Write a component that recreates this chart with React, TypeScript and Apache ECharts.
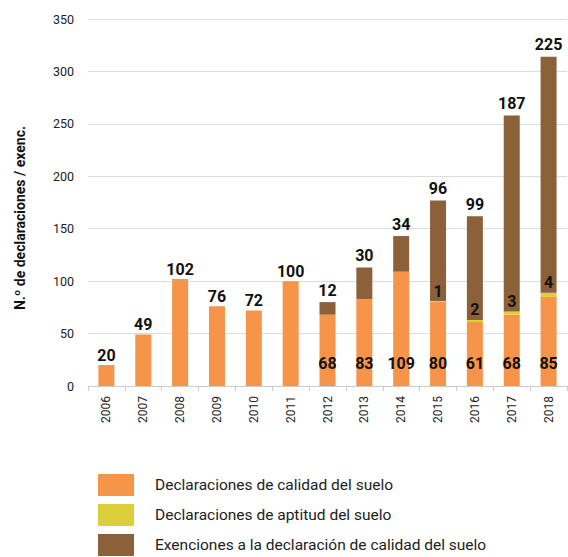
import React, { useEffect, useRef } from "react";
import * as echarts from "echarts";

const years = ["2006", "2007", "2008", "2009", "2010", "2011", "2012", "2013", "2014", "2015", "2016", "2017", "2018"];
const calidad = [20, 49, 102, 76, 72, 100, 68, 83, 109, 80, 61, 68, 85];
const aptitud = [0, 0, 0, 0, 0, 0, 0, 0, 0, 1, 2, 3, 4];
const exenciones = [0, 0, 0, 0, 0, 0, 12, 30, 34, 96, 99, 187, 225];
const yTicks = { min: 0, max: 350, interval: 50 };

const ORANGE = "#F6944A";
const YELLOW = "#DCCF3C";
const BROWN = "#8C6038";
const FONT = "Roboto";

const labelBase = {
  show: true,
  color: "#111",
  fontFamily: FONT,
  fontWeight: "bold" as const,
  fontSize: 16,
};

export default function App() {
  const ref = useRef<HTMLDivElement>(null);

  useEffect(() => {
    if (!ref.current) return;
    const chart = echarts.init(ref.current, null, { renderer: "svg" });

    // Orange values sit on top of the bar when it stands alone, inside at the base when stacked
    const calidadData = calidad.map((v, i) => {
      const stacked = exenciones[i] > 0 || aptitud[i] > 0;
      return {
        value: v,
        label: stacked
          ? { ...labelBase, position: "insideBottom", distance: 15 }
          : { ...labelBase, position: "top", distance: 2 },
      };
    });
    const aptitudData = aptitud.map((v) => ({
      value: v,
      label: v > 0 ? { ...labelBase, position: "top", distance: 2 } : { show: false },
    }));
    const exencionesData = exenciones.map((v) => ({
      value: v,
      label: v > 0 ? { ...labelBase, position: "top", distance: 4 } : { show: false },
    }));

    chart.setOption({
      animation: false,
      textStyle: { fontFamily: FONT },
      grid: { left: 88, right: 1, top: 19, bottom: 171, containLabel: false },
      graphic: [
        {
          type: "text",
          x: 20,
          y: 218,
          rotation: Math.PI / 2,
          style: {
            text: "N.º de declaraciones / exenc.",
            fontFamily: FONT,
            fontSize: 14,
            fontWeight: "bold",
            fill: "#111",
            align: "center",
            verticalAlign: "middle",
          },
        },
      ],
      legend: {
        orient: "vertical",
        left: 98,
        top: 474,
        padding: 0,
        itemWidth: 36,
        itemHeight: 22,
        itemGap: 8,
        icon: "rect",
        selectedMode: false,
        textStyle: { fontSize: 15.5, color: "#222", fontFamily: FONT, padding: [0, 0, 0, 16] },
        data: [
          "Declaraciones de calidad del suelo",
          "Declaraciones de aptitud del suelo",
          "Exenciones a la declaración de calidad del suelo",
        ],
      },
      xAxis: {
        type: "category",
        data: years,
        boundaryGap: true,
        axisLine: { lineStyle: { color: "#cccccc", width: 1 } },
        axisTick: { show: true, length: 5, lineStyle: { color: "#cccccc" } },
        axisLabel: { rotate: 90, color: "#222", fontSize: 12, margin: 10, fontFamily: FONT },
      },
      yAxis: {
        type: "value",
        min: yTicks.min,
        max: yTicks.max,
        interval: yTicks.interval,
        axisLine: { show: false },
        axisTick: { show: false },
        axisLabel: { color: "#222", fontSize: 12.5, margin: 14, fontFamily: FONT },
        splitLine: { lineStyle: { color: "#dddddd", width: 1 } },
      },
      series: [
        {
          name: "Declaraciones de calidad del suelo",
          type: "bar",
          stack: "total",
          barWidth: 16,
          itemStyle: { color: ORANGE },
          data: calidadData,
        },
        {
          name: "Declaraciones de aptitud del suelo",
          type: "bar",
          stack: "total",
          barWidth: 16,
          itemStyle: { color: YELLOW },
          data: aptitudData,
        },
        {
          name: "Exenciones a la declaración de calidad del suelo",
          type: "bar",
          stack: "total",
          barWidth: 16,
          itemStyle: { color: BROWN },
          data: exencionesData,
        },
      ],
    });

    return () => chart.dispose();
  }, []);

  return <div ref={ref} style={{ width: 568, height: 557, position: "absolute", left: 0, top: 0 }} />;
}
